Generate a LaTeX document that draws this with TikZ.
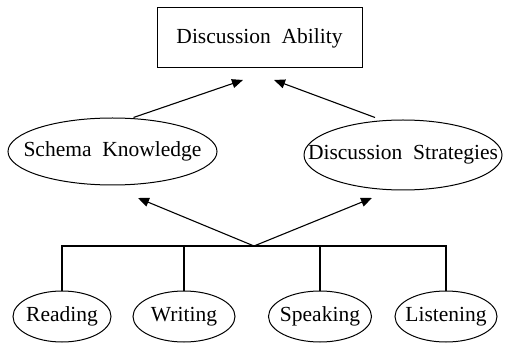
\documentclass[tikz,border=0pt]{standalone}
\usepackage{fontspec}
\setmainfont{Liberation Serif}
\usetikzlibrary{calc, shapes.geometric, arrows.meta}
\newcommand{\diagfont}{\fontsize{21.5}{25}\selectfont\spaceskip 0.5em\relax}

\begin{document}
\begin{tikzpicture}[x=1pt, y=-1pt, font=\diagfont,
  box/.style={draw, line width=1pt, inner sep=0pt, minimum width=205pt, minimum height=60pt},
  oval/.style={draw, ellipse, line width=1pt, inner sep=0pt},
  link/.style={line width=1.1pt},
  arr/.style={line width=1.1pt, -{Triangle[length=11pt, width=9pt]}}]

\useasboundingbox (0,0) rectangle (505,344);

% Top
\node[box] (DA) at (259.5,38) {Discussion Ability};

% Middle
\node[oval, minimum width=209pt, minimum height=67pt] (SK) at (112.5,151.5) {\makebox[0pt]{Schema Knowledge}};
\node[oval, minimum width=198pt, minimum height=70pt] (DS) at (403,155) {\makebox[0pt]{Discussion Strategies}};

% Bottom
\node[oval, minimum width=98pt, minimum height=51pt] (R) at (62,316.5) {\makebox[0pt]{Reading}};
\node[oval, minimum width=102pt, minimum height=51pt] (W) at (184,316.5) {\makebox[0pt]{Writing}};
\node[oval, minimum width=103pt, minimum height=51pt] (S) at (320,316.5) {\makebox[0pt]{Speaking}};
\node[oval, minimum width=102pt, minimum height=51pt] (L) at (446,316.5) {\makebox[0pt]{Listening}};

% Points
\coordinate (H) at (254,246);
\coordinate (T1) at (243,80);
\coordinate (T2) at (274,80);
\coordinate (T3) at (138,198);
\coordinate (T4) at (372,198);

% Arrows
\draw[arr] ($(SK.north)+(21,0)$) -- (T1);
\draw[arr] ($(DS.north)+(-28,-2)$) -- (T2);
\draw[arr] (H) -- (T3);
\draw[arr] (H) -- (T4);

% Lines
\draw[link] (R.north) |- (H) -| (L.north);
\draw[link] (W.north) -- (W.north |- H);
\draw[link] (S.north) -- (S.north |- H);
\end{tikzpicture}
\end{document}
